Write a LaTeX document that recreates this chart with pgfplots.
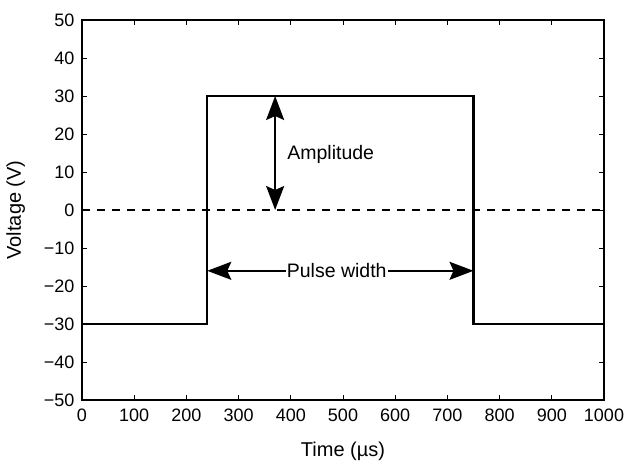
\documentclass[border=0pt]{standalone}
\usepackage{pgfplots}
\pgfplotsset{compat=1.18}
\usepackage{fontspec}
\setmainfont{Liberation Sans}
\usetikzlibrary{arrows.meta}
\begin{document}
\begin{tikzpicture}
  \begin{axis}[
      scale only axis,
      width=522bp, height=380bp,
      xmin=0, xmax=1000, ymin=-50, ymax=50,
      xtick={0,100,...,1000},
      ytick={-50,-40,...,50},
      yticklabels={−50,−40,−30,−20,−10,0,10,20,30,40,50},
      xticklabel style={/pgf/number format/assume math mode=true,
                        /pgf/number format/1000 sep={}, yshift=-5bp},
      yticklabel style={xshift=-4bp},
      tick align=inside,
      major tick length=5bp,
      axis line style={line width=2.4bp},
      every tick/.style={black, line width=1bp},
      tick label style={font=\fontsize{18bp}{21bp}\selectfont},
      label style={font=\fontsize{20bp}{23bp}\selectfont},
      xlabel={Time (µs)},
      ylabel={Voltage (V)},
      xlabel style={yshift=-14bp},
      ylabel style={yshift=12bp},
      clip=false,
    ]
    % zero line
    \addplot[black, line width=2bp, dash pattern=on 8bp off 7bp] coordinates {
      (0,0) (1000,0)
    };
    % pulse
    \addplot[black, line width=2.2bp] coordinates {
      (0,-30) (240,-30) (240,30) (750,30) (750,-30) (1000,-30)
    };
    % annotations
    \draw[black, line width=2bp, {Stealth[length=24bp,width=18bp,inset=4bp]}-{Stealth[length=24bp,width=18bp,inset=4bp]}]
      (axis cs:370,0) -- (axis cs:370,30);
    \node[anchor=west, inner sep=0pt, font=\fontsize{19.5bp}{22bp}\selectfont] at (axis cs:393,14.5) {Amplitude};
    \draw[black, line width=2bp, {Stealth[length=24bp,width=18bp,inset=4bp]}-{Stealth[length=24bp,width=18bp,inset=4bp]}]
      (axis cs:240,-16) -- (axis cs:750,-16);
    \node[fill=white, inner sep=1pt, font=\fontsize{19.5bp}{22bp}\selectfont] at (axis cs:488,-16) {Pulse width};
    % margins around the frame, as in the reference
    \path (rel axis cs:0,1) ++(-82bp,20bp) coordinate (tl);
    \path (rel axis cs:1,0) ++(24bp,-61bp) coordinate (br);
    \path (tl) (br);
  \end{axis}
\end{tikzpicture}
\end{document}
